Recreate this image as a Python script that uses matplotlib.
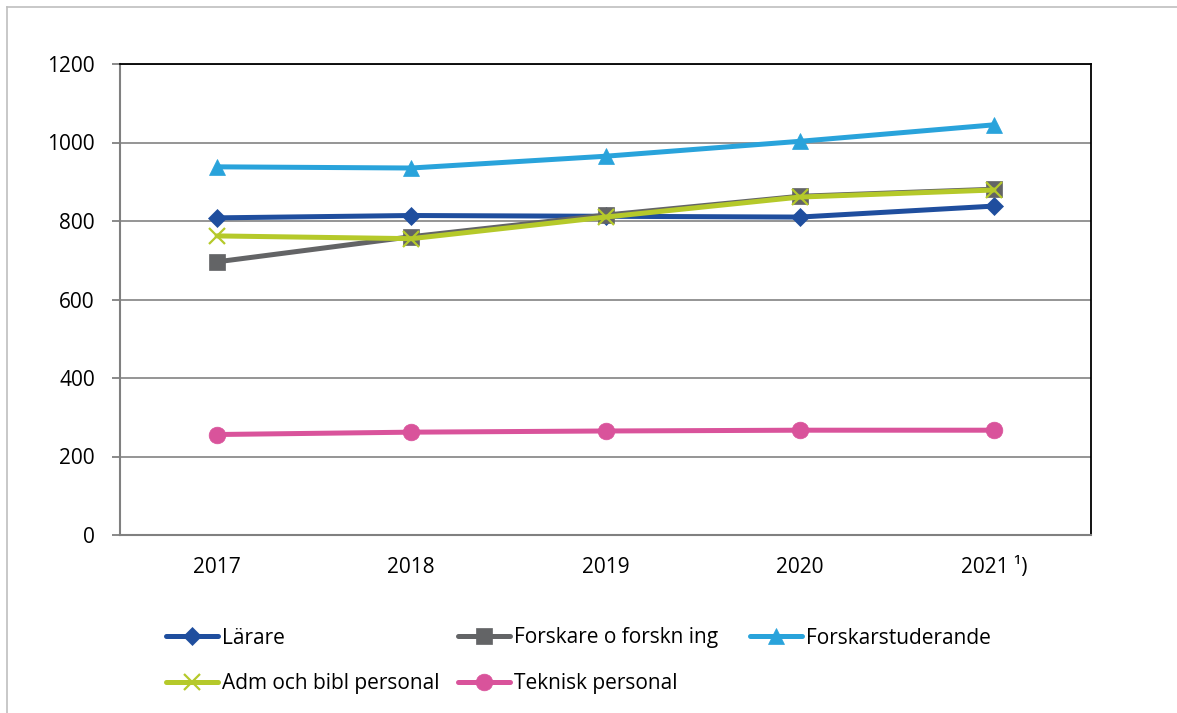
import matplotlib
matplotlib.use("Agg")
import matplotlib.pyplot as plt
from matplotlib.lines import Line2D

years = ["2017", "2018", "2019", "2020", "2021 ¹)"]
larare = [808, 814, 812, 810, 838]
forskare = [696, 760, 815, 863, 881]
forskarstud = [938, 935, 965, 1003, 1045]
adm = [762, 755, 810, 861, 879]
teknisk = [256, 262, 265, 267, 267]

series = [
    ("Lärare", larare, "#1F4E9E", "D", 8.8),
    ("Forskare o forskn ing", forskare, "#636466", "s", 11.5),
    ("Forskarstuderande", forskarstud, "#29A3DB", "^", 12),
    ("Adm och bibl personal", adm, "#B5C92A", "x", 11),
    ("Teknisk personal", teknisk, "#D9539B", "o", 12),
]

plt.rcParams['font.family'] = ['Open Sans', 'DejaVu Sans']
W, H = 1177, 713
fig = plt.figure(figsize=(W / 100, H / 100), dpi=100)
ax = fig.add_axes([120 / W, 1 - 535 / H, (1091 - 120) / W, (535 - 64) / H])

x = list(range(len(years)))
handles = {}
for name, vals, col, mk, ms in series:
    kw = dict(mew=1.6) if mk == "x" else dict(mew=0.5)
    h, = ax.plot(x, vals, color=col, lw=3.6, marker=mk, ms=ms, mec=col,
                 label=name, zorder=3, solid_capstyle='round', **kw)
    handles[name] = h

ax.set_xlim(-0.5, 4.5)
ax.set_ylim(0, 1200)
ax.set_yticks(range(0, 1201, 200))
ax.set_xticks(x)
ax.set_xticklabels(years)
ax.yaxis.grid(True, color="#8C8C8C", lw=1.3)
ax.set_axisbelow(True)
ax.tick_params(axis='y', length=6, width=1.3, color="#808080", pad=12, labelsize=15)
ax.tick_params(axis='x', length=0, pad=16, labelsize=15)
for s in ["left", "bottom"]:
    ax.spines[s].set_color("#808080")
    ax.spines[s].set_linewidth(1.5)
for s in ["top", "right"]:
    ax.spines[s].set_color("#000000")
    ax.spines[s].set_linewidth(1.3)

# legend entries placed on Excel-like grid
legend_pos = {
    "Lärare": (166, 638),
    "Forskare o forskn ing": (458, 638),
    "Forskarstuderande": (750, 638),
    "Adm och bibl personal": (166, 684),
    "Teknisk personal": (458, 684),
}
for name, (px, py) in legend_pos.items():
    fig.legend([handles[name]], [name], loc="center left",
               bbox_to_anchor=(px / W, 1 - py / H), frameon=False,
               fontsize=15, handlelength=2.5, handletextpad=0.2,
               borderaxespad=0, borderpad=0)

# outer chart border (left and top)
fig.add_artist(Line2D([7 / W, 7 / W], [0, 1 - 7 / H], color="#BFBFBF", lw=1.2))
fig.add_artist(Line2D([7 / W, 1], [1 - 7 / H, 1 - 7 / H], color="#BFBFBF", lw=1.2))

fig.savefig("out.png", dpi=100)
